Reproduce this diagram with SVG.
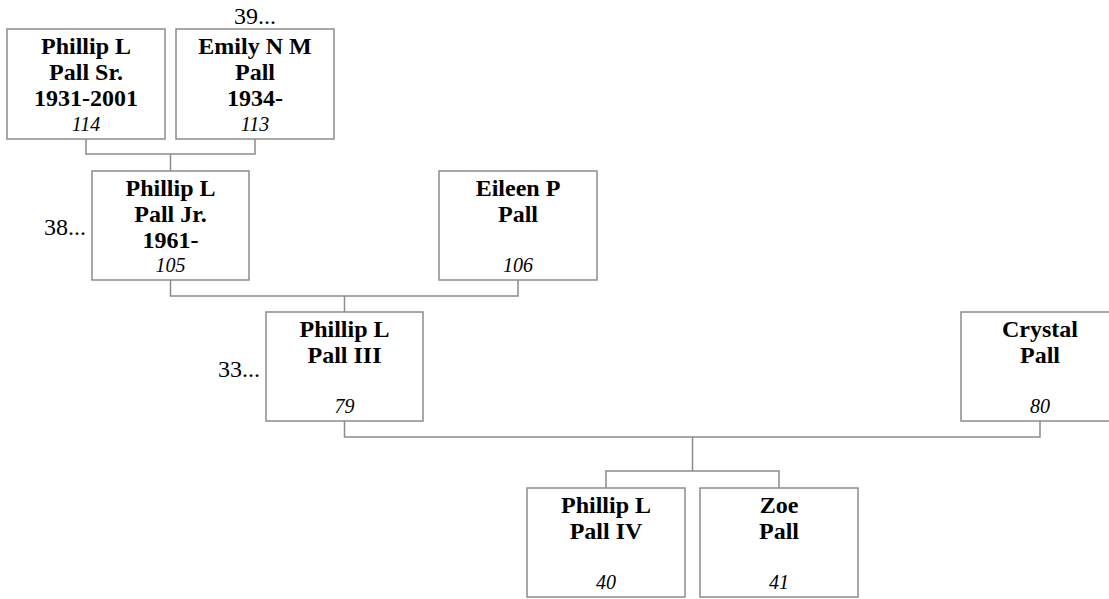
<svg xmlns="http://www.w3.org/2000/svg" width="1109" height="599" viewBox="0 0 1109 599">
<style>
.box{fill:#fff;stroke:#8c8c8c;stroke-width:1.5}
.ln{fill:none;stroke:#8c8c8c;stroke-width:1.5}
.nm{font-family:"Liberation Serif",serif;font-weight:bold;font-size:24px;text-anchor:middle;fill:#000}
.id{font-family:"Liberation Serif",serif;font-style:italic;font-size:20px;text-anchor:middle;fill:#000}
.gen{font-family:"Liberation Serif",serif;font-size:24px;fill:#000}
</style>
<rect width="1109" height="599" fill="#fff"/>
<g id="connectors">
<path class="ln" d="M86,139V154H255V139M170.5,154V171"/>
<path class="ln" d="M170.5,280V296H518V280M344.5,296V312"/>
<path class="ln" d="M344.5,421V437H1040V421M692.5,437V471M606,488V471H779V488"/>
</g>
<g id="n114">
<rect class="box" x="7" y="29" width="158" height="110"/>
<text class="nm" x="86" y="54">Phillip L</text>
<text class="nm" x="86" y="80">Pall Sr.</text>
<text class="nm" x="86" y="106">1931-2001</text>
<text class="id" x="86" y="131">114</text>
</g>
<g id="n113">
<rect class="box" x="176" y="29" width="158" height="110"/>
<text class="nm" x="255" y="54">Emily N M</text>
<text class="nm" x="255" y="80">Pall</text>
<text class="nm" x="255" y="106">1934-</text>
<text class="id" x="255" y="131">113</text>
<text class="gen" x="276" y="24" text-anchor="end">39...</text>
</g>
<g id="n105">
<rect class="box" x="92" y="171" width="157" height="109"/>
<text class="nm" x="170.5" y="196">Phillip L</text>
<text class="nm" x="170.5" y="222">Pall Jr.</text>
<text class="nm" x="170.5" y="248">1961-</text>
<text class="id" x="170.5" y="272">105</text>
<text class="gen" x="86" y="235" text-anchor="end">38...</text>
</g>
<g id="n106">
<rect class="box" x="439" y="171" width="158" height="109"/>
<text class="nm" x="518" y="196">Eileen P</text>
<text class="nm" x="518" y="222">Pall</text>
<text class="id" x="518" y="272">106</text>
</g>
<g id="n79">
<rect class="box" x="266" y="312" width="157" height="109"/>
<text class="nm" x="344.5" y="337">Phillip L</text>
<text class="nm" x="344.5" y="363">Pall III</text>
<text class="id" x="344.5" y="413">79</text>
<text class="gen" x="260" y="377" text-anchor="end">33...</text>
</g>
<g id="n80">
<rect class="box" x="961" y="312" width="158" height="109"/>
<text class="nm" x="1040" y="337">Crystal</text>
<text class="nm" x="1040" y="363">Pall</text>
<text class="id" x="1040" y="413">80</text>
</g>
<g id="n40">
<rect class="box" x="527" y="488" width="158" height="109"/>
<text class="nm" x="606" y="513">Phillip L</text>
<text class="nm" x="606" y="539">Pall IV</text>
<text class="id" x="606" y="589">40</text>
</g>
<g id="n41">
<rect class="box" x="700" y="488" width="158" height="109"/>
<text class="nm" x="779" y="513">Zoe</text>
<text class="nm" x="779" y="539">Pall</text>
<text class="id" x="779" y="589">41</text>
</g>
</svg>
